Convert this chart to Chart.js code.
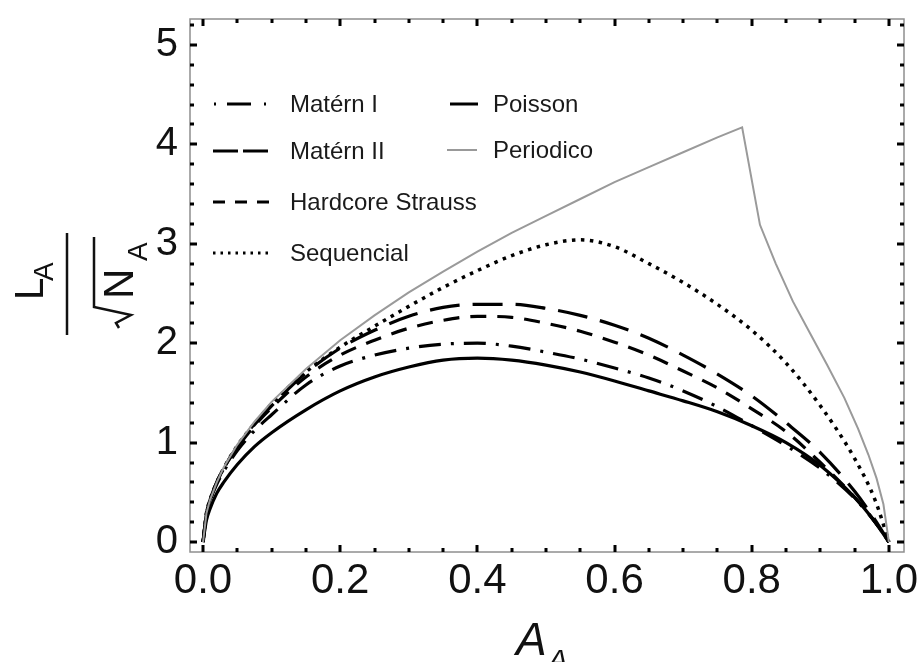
<!DOCTYPE html>
<html>
<head>
<meta charset="utf-8">
<script src="https://cdn.jsdelivr.net/npm/chart.js@4.4.0/dist/chart.umd.min.js"></script>
<style>
html, body { margin: 0; padding: 0; background: #fff; }
#wrap { width: 921px; height: 662px; }
</style>
</head>
<body>
<div id="wrap"><canvas id="myChart" width="921" height="662"></canvas></div>
<script>
// abscisses communes (A_A)
const xGrid = [0, 0.005, 0.01, 0.02, 0.03, 0.05, 0.075, 0.1, 0.15, 0.2, 0.25, 0.3, 0.35, 0.4, 0.45,
               0.5, 0.55, 0.6, 0.65, 0.7, 0.75, 0.8, 0.85, 0.9, 0.95, 0.98, 1.0];

// valeurs
const poisson    = [0, 0.22, 0.33, 0.49, 0.6, 0.78, 0.96, 1.1, 1.33, 1.52, 1.66, 1.76, 1.83, 1.85, 1.83,
                    1.78, 1.71, 1.62, 1.52, 1.42, 1.31, 1.17, 1.0, 0.77, 0.45, 0.2, 0];
const maternI    = [0, 0.28, 0.41, 0.58, 0.71, 0.92, 1.12, 1.28, 1.58, 1.77, 1.88, 1.95, 1.99, 2.0, 1.97,
                    1.91, 1.84, 1.75, 1.65, 1.52, 1.36, 1.17, 0.97, 0.74, 0.44, 0.2, 0];
const maternII   = [0, 0.29, 0.42, 0.6, 0.74, 0.96, 1.18, 1.37, 1.7, 1.95, 2.13, 2.27, 2.36, 2.39, 2.39,
                    2.35, 2.28, 2.18, 2.05, 1.88, 1.69, 1.47, 1.2, 0.9, 0.51, 0.22, 0];
const hardcore   = [0, 0.29, 0.42, 0.6, 0.74, 0.95, 1.17, 1.35, 1.66, 1.88, 2.03, 2.15, 2.23, 2.27, 2.26,
                    2.2, 2.12, 2.01, 1.88, 1.72, 1.55, 1.34, 1.11, 0.8, 0.45, 0.2, 0];
const sequencial = [0, 0.29, 0.42, 0.6, 0.74, 0.97, 1.19, 1.39, 1.71, 1.96, 2.17, 2.37, 2.56, 2.73, 2.88,
                    2.99, 3.04, 2.97, 2.8, 2.61, 2.39, 2.13, 1.8, 1.37, 0.84, 0.42, 0];

// le periodique a son propre echantillonnage (pic anguleux)
const xPeriodico = [0, 0.005, 0.01, 0.02, 0.03, 0.05, 0.075, 0.1, 0.15, 0.2, 0.25, 0.3, 0.35, 0.4, 0.45,
                    0.5, 0.55, 0.6, 0.65, 0.7, 0.75, 0.786, 0.812, 0.835, 0.86, 0.885, 0.91, 0.935, 0.955,
                    0.97, 0.982, 0.992, 1.0];
const periodico  = [0, 0.29, 0.42, 0.6, 0.75, 0.98, 1.21, 1.41, 1.74, 2.03, 2.28, 2.51, 2.72, 2.92, 3.11,
                    3.28, 3.45, 3.62, 3.77, 3.92, 4.07, 4.17, 3.19, 2.8, 2.42, 2.1, 1.78, 1.45, 1.14,
                    0.88, 0.64, 0.38, 0];

// graduations
const xTicks = [0, 0.2, 0.4, 0.6, 0.8, 1.0];
const yTicks = [0, 1, 2, 3, 4, 5];

function points(xs, ys) {
    return xs.map((x, i) => ({ x: x, y: ys[i] }));
}

const FONT = "'Liberation Sans', Arial, sans-serif";

// legende : colonne, ligne, style de l'echantillon
const legende = [
    { label: 'Matérn I', x0: 214, x1: 270, tx: 290, y: 104, dash: [2, 11, 24, 13], color: '#000', lw: 3 },
    { label: 'Matérn II', x0: 213, x1: 270, tx: 290, y: 151, dash: [25, 5], color: '#000', lw: 3 },
    { label: 'Hardcore Strauss', x0: 213, x1: 270, tx: 290, y: 202, dash: [12, 10], color: '#000', lw: 3 },
    { label: 'Sequencial', x0: 213, x1: 273, tx: 290, y: 253, dash: [2.5, 5], color: '#000', lw: 3 },
    { label: 'Poisson', x0: 450, x1: 478, tx: 493, y: 104, dash: [], color: '#000', lw: 3 },
    { label: 'Periodico', x0: 447, x1: 477, tx: 493, y: 150, dash: [], color: '#999', lw: 2 }
];

// cadre facon Mathematica + legende + titres des axes
const cadre = {
    id: 'cadre',
    afterDraw(chart) {
        const ctx = chart.ctx;
        const a = chart.chartArea;
        const sx = chart.scales.x, sy = chart.scales.y;
        ctx.save();

        ctx.strokeStyle = '#8f8f8f';
        ctx.lineWidth = 1.5;
        ctx.strokeRect(a.left, a.top, a.right - a.left, a.bottom - a.top);

        ctx.strokeStyle = '#000';
        ctx.lineWidth = 3;
        ctx.beginPath();
        for (let i = 0; i <= 20; i++) {
            const v = i * 0.05;
            const px = Math.round(sx.getPixelForValue(v));
            const len = (i % 4 === 0) ? 7 : 4;
            ctx.moveTo(px, a.bottom); ctx.lineTo(px, a.bottom - len);
            ctx.moveTo(px, a.top); ctx.lineTo(px, a.top + len);
        }
        for (let i = 0; i <= 26; i++) {
            const v = i * 0.2;
            const py = Math.round(sy.getPixelForValue(v));
            if (py < a.top + 2) continue;
            const len = (i % 5 === 0) ? 7 : 4;
            ctx.moveTo(a.left, py); ctx.lineTo(a.left + len, py);
            ctx.moveTo(a.right, py); ctx.lineTo(a.right - len, py);
        }
        ctx.stroke();

        // legende
        ctx.font = '24px ' + FONT;
        ctx.textBaseline = 'middle';
        ctx.textAlign = 'left';
        legende.forEach(e => {
            ctx.beginPath();
            ctx.setLineDash(e.dash);
            ctx.strokeStyle = e.color;
            ctx.lineWidth = e.lw;
            ctx.moveTo(e.x0, e.y);
            ctx.lineTo(e.x1, e.y);
            ctx.stroke();
            ctx.setLineDash([]);
            ctx.fillStyle = '#1a1a1a';
            ctx.fillText(e.label, e.tx, e.y + 1);
        });

        // titre axe x : A_A
        ctx.fillStyle = '#111';
        ctx.textBaseline = 'alphabetic';
        ctx.font = 'italic 46px ' + FONT;
        ctx.fillText('A', 516, 655);
        ctx.font = 'italic 30px ' + FONT;
        ctx.fillText('A', 548, 670);

        // titre axe y : L_A / sqrt(N_A), tourne
        ctx.translate(67, 284);
        ctx.rotate(-Math.PI / 2);
        ctx.strokeStyle = '#111';
        ctx.lineWidth = 2.5;
        ctx.beginPath();
        ctx.moveTo(-51, 0); ctx.lineTo(51, 0);
        ctx.stroke();
        ctx.font = '40px ' + FONT;
        ctx.fillText('L', -16, -24);
        ctx.font = '28px ' + FONT;
        ctx.fillText('A', 3, -14);
        ctx.beginPath();
        ctx.moveTo(47, 27); ctx.lineTo(-23, 27); ctx.lineTo(-31, 64); ctx.lineTo(-39, 49); ctx.lineTo(-44, 52);
        ctx.stroke();
        ctx.font = '42px ' + FONT;
        ctx.fillText('N', -15, 66);
        ctx.font = '28px ' + FONT;
        ctx.fillText('A', 23, 80);

        ctx.restore();
    }
};

function serie(label, xs, ys, dash, color, lw, lisse) {
    return {
        label: label,
        data: points(xs, ys),
        borderColor: color,
        borderWidth: lw,
        borderDash: dash,
        pointRadius: 0,
        fill: false,
        cubicInterpolationMode: lisse ? 'monotone' : 'default',
        tension: 0
    };
}

const ctx = document.getElementById('myChart').getContext('2d');
const myChart = new Chart(ctx, {
    type: 'line',
    data: {
        datasets: [
            serie('Periodico', xPeriodico, periodico, [], '#9a9a9a', 2, false),
            serie('Poisson', xGrid, poisson, [], '#000', 3.2, true),
            serie('Matérn I', xGrid, maternI, [22, 10, 3, 10], '#000', 3.2, true),
            serie('Matérn II', xGrid, maternII, [30, 13], '#000', 3.2, true),
            serie('Hardcore Strauss', xGrid, hardcore, [16, 11], '#000', 3.2, true),
            serie('Sequencial', xGrid, sequencial, [3.5, 5.5], '#000', 3.5, true)
        ]
    },
    options: {
        responsive: false,
        animation: false,
        devicePixelRatio: 1,
        layout: { padding: { top: 19, right: 17, left: 0, bottom: 0 } },
        plugins: {
            legend: { display: false },
            tooltip: { enabled: false },
            title: { display: false }
        },
        scales: {
            x: {
                type: 'linear',
                min: -0.019,
                max: 1.022,
                afterBuildTicks: s => { s.ticks = xTicks.map(v => ({ value: v })); },
                afterFit: s => {
                    s.height = 110;
                    s.paddingLeft = 0; s.paddingRight = 0;
                },
                grid: { display: false, drawTicks: false },
                border: { display: false },
                ticks: {
                    font: { family: FONT, size: 42 },
                    color: '#111',
                    padding: 4,
                    maxRotation: 0,
                    autoSkip: false,
                    callback: v => v.toFixed(1)
                }
            },
            y: {
                type: 'linear',
                min: -0.1,
                max: 5.26,
                afterBuildTicks: s => { s.ticks = yTicks.map(v => ({ value: v })); },
                afterFit: s => {
                    s.width = 190;
                    s.paddingTop = 0; s.paddingBottom = 0;
                },
                grid: { display: false, drawTicks: false },
                border: { display: false },
                ticks: {
                    font: { family: FONT, size: 40 },
                    color: '#111',
                    padding: 12,
                    autoSkip: false,
                    callback: v => String(v)
                }
            }
        }
    },
    plugins: [cadre]
});
</script>
</body>
</html>
